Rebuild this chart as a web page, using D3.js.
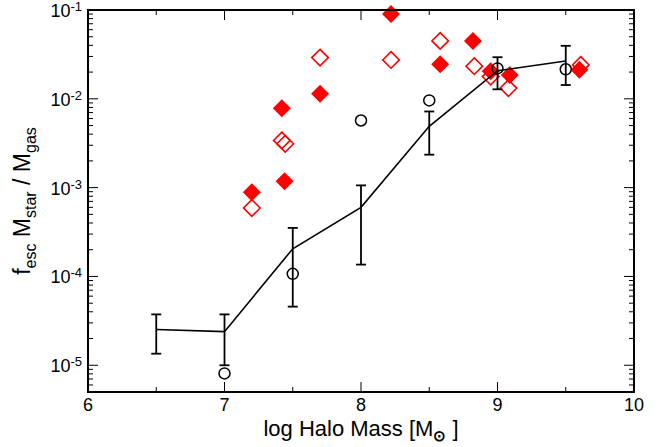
<!DOCTYPE html>
<html><head><meta charset="utf-8">
<script src="https://cdn.jsdelivr.net/npm/d3@7"></script>
<style>body{margin:0;background:#fff}svg{display:block}text{font-family:Arial,"Liberation Sans",sans-serif}</style>
</head><body><svg id="c" width="668" height="447"></svg>
<script>
const lineX = [6.5, 7, 7.5, 8, 8.5, 9, 9.5];
const lineY = [2.53e-5, 2.39e-5, 2.05e-4, 6.0e-4, 4.9e-3, 2.07e-2, 2.67e-2];
const errLo = [1.35e-5, 1.0e-5, 4.57e-5, 1.36e-4, 2.35e-3, 1.28e-2, 1.43e-2];
const errHi = [3.74e-5, 3.74e-5, 3.52e-4, 1.06e-3, 7.2e-3, 2.94e-2, 3.95e-2];
const circX = [7, 7.5, 8, 8.5, 9, 9.5];
const circY = [8.1e-6, 1.07e-4, 5.7e-3, 9.6e-3, 2.2e-2, 2.15e-2];
const filledX = [7.2, 7.42, 7.44, 7.7, 8.22, 8.58, 8.82, 8.95, 9.09, 9.6];
const filledY = [8.9e-4, 7.85e-3, 1.18e-3, 1.14e-2, 9.0e-2, 2.45e-2, 4.49e-2, 2.04e-2, 1.86e-2, 2.12e-2];
const openX = [7.2, 7.42, 7.445, 7.7, 8.22, 8.58, 8.83, 8.95, 9.08, 9.61];
const openY = [5.9e-4, 3.4e-3, 3.12e-3, 2.91e-2, 2.74e-2, 4.49e-2, 2.33e-2, 1.78e-2, 1.32e-2, 2.41e-2];
const xTicks = [6, 7, 8, 9, 10];
const xMinor = [6.5, 7.5, 8.5, 9.5];
const yTicks = [1e-5, 1e-4, 1e-3, 1e-2, 1e-1];
const yTickExp = ["-5", "-4", "-3", "-2", "-1"];

const L = 88, R = 634, T = 10, B = 392;
const svg = d3.select("#c");
const x = d3.scaleLinear().domain([6, 10]).range([L, R]);
const y = d3.scaleLog().domain([5e-6, 0.1]).range([B, T]);

const yMinor = [];
[1e-6, 1e-5, 1e-4, 1e-3, 1e-2].forEach(d => { for (let k = 2; k <= 9; k++) { const v = d * k; if (v >= 5e-6 && v < 0.1) yMinor.push(v); } });

const g = svg.append("g").attr("stroke", "#000").attr("stroke-width", 1);
xTicks.forEach(v => {
  g.append("line").attr("x1", x(v)).attr("x2", x(v)).attr("y1", B).attr("y2", B - 10);
  g.append("line").attr("x1", x(v)).attr("x2", x(v)).attr("y1", T).attr("y2", T + 10);
});
xMinor.forEach(v => {
  g.append("line").attr("x1", x(v)).attr("x2", x(v)).attr("y1", B).attr("y2", B - 5);
  g.append("line").attr("x1", x(v)).attr("x2", x(v)).attr("y1", T).attr("y2", T + 5);
});
yTicks.forEach(v => {
  g.append("line").attr("x1", L).attr("x2", L + 10).attr("y1", y(v)).attr("y2", y(v));
  g.append("line").attr("x1", R).attr("x2", R - 10).attr("y1", y(v)).attr("y2", y(v));
});
yMinor.forEach(v => {
  g.append("line").attr("x1", L).attr("x2", L + 5).attr("y1", y(v)).attr("y2", y(v));
  g.append("line").attr("x1", R).attr("x2", R - 5).attr("y1", y(v)).attr("y2", y(v));
});

function diamond(cx, cy, r) { return `M${cx},${cy - r}L${cx + r},${cy}L${cx},${cy + r}L${cx - r},${cy}Z`; }
svg.append("g").selectAll("path").data(openX).join("path")
  .attr("d", (d, i) => diamond(x(d), y(openY[i]), 8.3))
  .attr("fill", "none").attr("stroke", "#ff0000").attr("stroke-width", 1.6);
svg.append("g").selectAll("path").data(filledX).join("path")
  .attr("d", (d, i) => diamond(x(d), y(filledY[i]), 9))
  .attr("fill", "#ff0000");

const line = d3.line().x(d => x(d[0])).y(d => y(d[1]));
svg.append("path").datum(lineX.map((d, i) => [d, lineY[i]])).attr("d", line)
  .attr("fill", "none").attr("stroke", "#000").attr("stroke-width", 1.6);
const eb = svg.append("g").attr("stroke", "#000").attr("stroke-width", 1.8);
lineX.forEach((d, i) => {
  eb.append("line").attr("x1", x(d)).attr("x2", x(d)).attr("y1", y(errLo[i])).attr("y2", y(errHi[i]));
  eb.append("line").attr("x1", x(d) - 5).attr("x2", x(d) + 5).attr("y1", y(errLo[i])).attr("y2", y(errLo[i]));
  eb.append("line").attr("x1", x(d) - 5).attr("x2", x(d) + 5).attr("y1", y(errHi[i])).attr("y2", y(errHi[i]));
});
svg.append("g").selectAll("circle").data(circX).join("circle")
  .attr("cx", d => x(d)).attr("cy", (d, i) => y(circY[i])).attr("r", 5.5)
  .attr("fill", "none").attr("stroke", "#000").attr("stroke-width", 1.5);

svg.append("rect").attr("x", L).attr("y", T).attr("width", R - L).attr("height", B - T)
  .attr("fill", "none").attr("stroke", "#000").attr("stroke-width", 2);

svg.append("g").selectAll("text").data(xTicks).join("text")
  .attr("x", d => x(d)).attr("y", B + 19).attr("text-anchor", "middle")
  .attr("font-size", 18).text(d => d);
yTicks.forEach((v, i) => {
  const t = svg.append("text").attr("x", L - 6).attr("y", y(v) + 7).attr("text-anchor", "end").attr("font-size", 18);
  t.append("tspan").text("10");
  t.append("tspan").attr("font-size", 13).attr("dy", -6).text(yTickExp[i]);
});

const xt = svg.append("text").attr("x", (L + R) / 2).attr("y", 436).attr("text-anchor", "middle").attr("font-size", 22);
xt.append("tspan").text("log Halo Mass [M");
xt.append("tspan").attr("font-size", 15).attr("font-weight", "bold").attr("dy", 5).text("\u2299");
xt.append("tspan").attr("dy", -5).text(" ]");

const yt = svg.append("text").attr("transform", `translate(30,${(T + B) / 2}) rotate(-90)`)
  .attr("text-anchor", "middle").attr("font-size", 23);
yt.append("tspan").text("f");
yt.append("tspan").attr("font-size", 16).attr("dy", 6).text("esc");
yt.append("tspan").attr("dy", -6).text(" M");
yt.append("tspan").attr("font-size", 16).attr("dy", 6).text("star");
yt.append("tspan").attr("dy", -6).text(" / M");
yt.append("tspan").attr("font-size", 16).attr("dy", 6).text("gas");
</script></body></html>
